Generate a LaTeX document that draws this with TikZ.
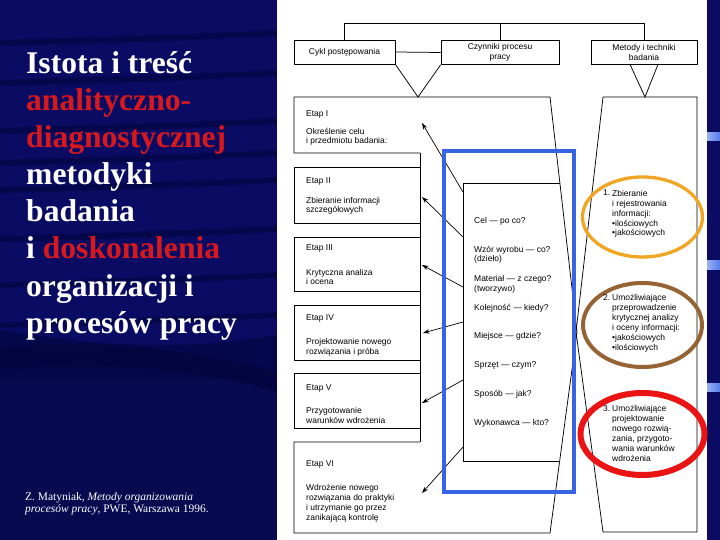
\documentclass[tikz,border=0pt]{standalone}
\usepackage{fontspec}
\setmainfont{Liberation Serif}
\setsansfont{Liberation Sans}
\usetikzlibrary{arrows.meta}
\definecolor{navy}{RGB}{10,12,100}
\definecolor{navydeep}{RGB}{2,3,55}
\definecolor{ttlred}{RGB}{215,25,30}
\definecolor{bluebox}{RGB}{55,100,228}
\definecolor{ellorange}{RGB}{240,165,35}
\definecolor{ellbrown}{RGB}{150,100,52}
\definecolor{ellred}{RGB}{235,20,20}
\definecolor{barblue}{RGB}{85,125,235}
\newcommand\scanf{\fontsize{8.5}{10}\selectfont\sffamily}
\newcommand\ttlf{\fontsize{31.7}{37}\selectfont\bfseries}
\newcommand\citef{\fontsize{11.5}{12}\selectfont}
\begin{document}
\begin{tikzpicture}[x=1bp,y=-1bp,
  ln/.style={line width=0.75bp, black},
  hbox/.style={draw, line width=0.75bp, minimum height=24bp, inner sep=0, font=\scanf, align=center},
  stxt/.style={font=\scanf, anchor=base west, inner sep=0, align=left, text=black},
  arr/.style={line width=0.7bp, -{Stealth[length=6.5bp,width=4.5bp]}},
  ttl/.style={font=\ttlf, anchor=base west, inner sep=0},
  cit/.style={font=\citef, anchor=base west, inner sep=0, text=white}
]
\useasboundingbox (0,0) rectangle (720,540);
% backgrounds
\fill[navy] (0,0) rectangle (720,540);
\fill[navydeep,opacity=0.55] (0,330) .. controls (90,345) and (180,352) .. (277,335) -- (277,540) -- (0,540) -- cycle;
\fill[navy!80!black] (0,380) rectangle (277,540);
\foreach \y in {40,80,128,160,187,236,282,322}{
  \fill[navydeep,opacity=0.5] (0,\y) .. controls (90,\y-3) and (190,\y-6) .. (277,\y-10)
     -- (277,\y-4) .. controls (190,\y+1) and (90,\y+4) .. (0,\y+6) -- cycle;
}
\fill[navydeep,opacity=0.5] (0,348) .. controls (100,340) and (200,350) .. (277,372) -- (277,392) .. controls (200,368) and (100,362) .. (0,370) -- cycle;
\fill[white] (277,0) rectangle (707,540);
\foreach \y in {133,261,383}{
  \shade[left color=barblue!60!white, right color=barblue] (707,\y) rectangle (720,\y+8);
}
% title
\node[ttl, text=white] (t1) at (26,73.5) {Istota i treść};
\node[ttl, text=ttlred] (t2) at (26,110.6) {analityczno-};
\node[ttl, text=ttlred] (t3) at (26,147.7) {diagnostycznej};
\node[ttl, text=white] (t4) at (26,184.8) {metodyki};
\node[ttl, text=white] (t5) at (26,221.9) {badania};
\node[ttl, text=white] (t6) at (26,259) {i \textcolor{ttlred}{doskonalenia}};
\node[ttl, text=white] (t7) at (26,296.1) {organizacji i};
\node[ttl, text=white] (t8) at (26,333.2) {procesów pracy};
\node[cit] (c1) at (25,500.5) {Z. Matyniak, \textit{Metody organizowania}};
\node[cit] (c2) at (25,512) {\textit{procesów pracy}, PWE, Warszawa 1996.};
% header boxes
\node[hbox, minimum width=101bp] (cykl) at (344.5,52) {Cykl postępowania};
\node[hbox, minimum width=118bp] (czyn) at (500,52.5) {Czynniki procesu\\pracy};
\node[hbox, minimum width=106bp] (metody) at (644,52) {Metody i techniki\\badania};
\draw[ln] (cykl.north) -- ++(0,-16) coordinate (tl) -| (metody.north);
\draw[ln] (czyn.north) -- (czyn.north |- tl);
\draw[ln] (cykl.east) -- (czyn.west);
\coordinate (v1) at (418,97);
\coordinate (v2) at (645,97);
\draw[ln] (cykl.south east) -- (v1) -- (czyn.south west);
\draw[ln] ([xshift=-14bp]metody.south) -- (v2) -- ([xshift=14bp]metody.south);
% main left shape
\draw[ln] (420,153) -- (294,153) -- (294,97) -- (550,97) -- (577,332) -- (550,533) -- (294,533) -- (294,442) -- (420,442);
\draw[ln] (420,153) -- (420,442);
\foreach \a/\b in {167/223,237/291,305/360,373/428}{
  \draw[ln] (420,\a) -- (294,\a) -- (294,\b) -- (420,\b);
}
% right shape
\draw[ln] (603,97) -- (697,97) -- (697,532) -- (603,532) -- (576,332) -- cycle;
% inner box
\draw[ln] (560,183) -- (463,183) -- (463,461) -- (559.7,461);
% etap texts (multi-line nodes are placed by the baseline of their last line)
\node[stxt] (e1) at (306,117) {Etap I};
\node[stxt] (e1t) at (306,144) {Określenie celu\\i przedmiotu badania:};
\node[stxt] (e2) at (306,184) {Etap II};
\node[stxt] (e2t) at (306,213) {Zbieranie informacji\\szczegółowych};
\node[stxt] (e3) at (306,251) {Etap III};
\node[stxt] (e3t) at (306,285) {Krytyczna analiza\\i ocena};
\node[stxt] (e4) at (306,320) {Etap IV};
\node[stxt] (e4t) at (306,354) {Projektowanie nowego\\rozwiązania i próba};
\node[stxt] (e5) at (306,390) {Etap V};
\node[stxt] (e5t) at (306,423) {Przygotowanie\\warunków wdrożenia};
\node[stxt] (e6) at (306,466) {Etap VI};
\node[stxt] (e6t) at (306,520) {Wdrożenie nowego\\rozwiązania do praktyki\\i utrzymanie go przez\\zanikającą kontrolę};
% inner texts
\node[stxt] (q1) at (474,224) {Cel — po co?};
\node[stxt] (q2) at (474,262) {Wzór wyrobu — co?\\(dzieło)};
\node[stxt] (q3) at (474,291) {Materiał — z czego?\\(tworzywo)};
\node[stxt] (q4) at (474,310) {Kolejność — kiedy?};
\node[stxt] (q5) at (474,338) {Miejsce — gdzie?};
\node[stxt] (q6) at (474,367) {Sprzęt — czym?};
\node[stxt] (q7) at (474,396) {Sposób — jak?};
\node[stxt] (q8) at (474,425) {Wykonawca — kto?};
% arrows
\foreach \i/\sy/\ex/\ey in {1/192/422/123, 2/237/422/197, 3/287/422/265, 4/322/423/333, 5/380/422/403, 6/447/422/493}{
  \coordinate (as\i) at (463,\sy);
  \coordinate (ae\i) at (\ex,\ey);
  \draw[arr] (as\i) -- (ae\i);
}
% blue frame
\draw[bluebox, line width=4.5bp] (444,151) rectangle (574,492);
% ellipses
\draw[ellorange, line width=3.3bp] (642.5,217) ellipse [x radius=60, y radius=40];
\draw[ellbrown, line width=4bp] (642.5,325) ellipse [x radius=59.5, y radius=42];
\draw[ellred, line width=6bp] (642.5,434) ellipse [x radius=62, y radius=41];
% ellipse texts
\node[stxt] (n1) at (603,196) {1.};
\node[stxt] (m1) at (612,236) {Zbieranie\\i rejestrowania\\informacji:\\•ilościowych\\•jakościowych};
\node[stxt] (n2) at (603,300) {2.};
\node[stxt] (m2) at (612,350) {Umożliwiające\\przeprowadzenie\\krytycznej analizy\\i oceny informacji:\\•jakościowych\\•ilościowych};
\node[stxt] (n3) at (603,411) {3.};
\node[stxt] (m3) at (612,461) {Umożliwiające\\projektowanie\\nowego rozwią-\\zania, przygoto-\\wania warunków\\wdrożenia};
\end{tikzpicture}
\end{document}
